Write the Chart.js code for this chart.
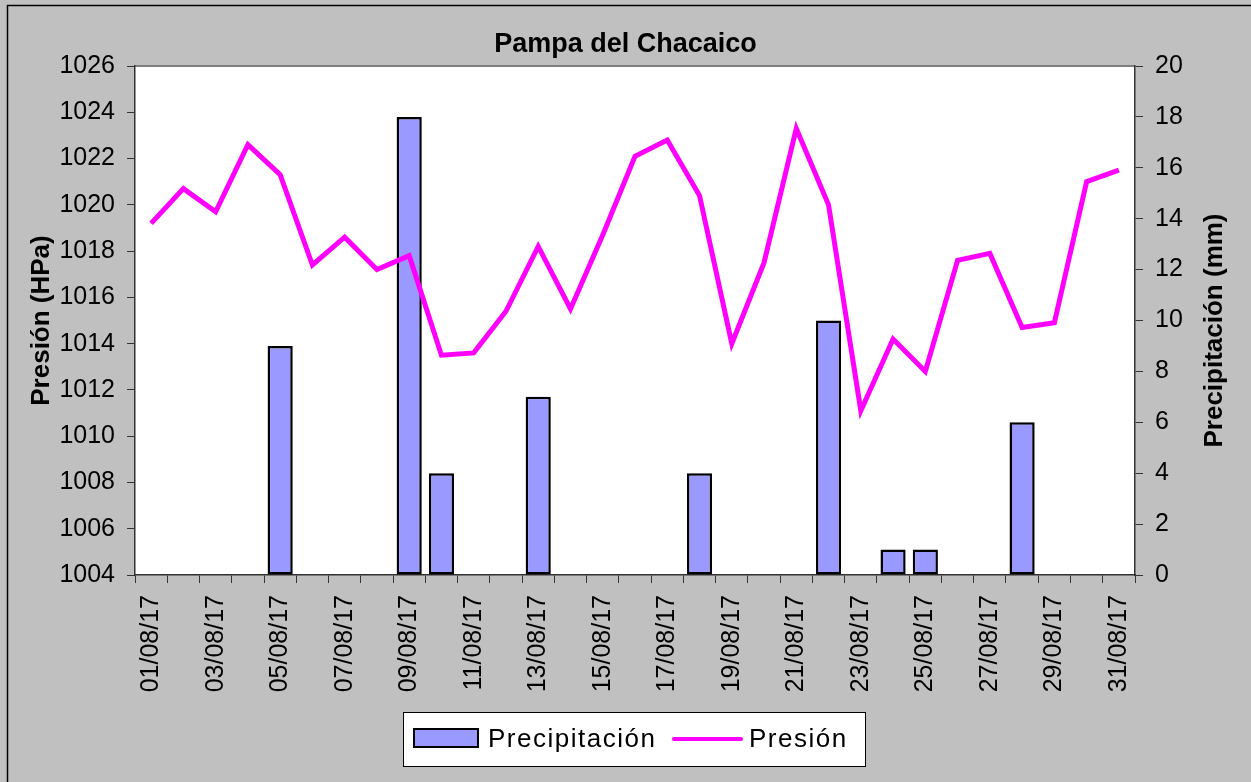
<!DOCTYPE html>
<html>
  <head>
    <title>Pampa del Chacaico</title>
    <script src="https://cdn.jsdelivr.net/npm/chart.js"></script>
    <style>
      body {
        margin: 0;
        background-color: #c0c0c0;
      }
      #wrap {
        width: 1251px;
        height: 782px;
      }
    </style>
  </head>
  <body>
    <div id="wrap"><canvas id="chart" width="1251" height="782"></canvas></div>

    <script>
      let dates = [
        "01/08/17", "02/08/17", "03/08/17", "04/08/17", "05/08/17", "06/08/17",
        "07/08/17", "08/08/17", "09/08/17", "10/08/17", "11/08/17", "12/08/17",
        "13/08/17", "14/08/17", "15/08/17", "16/08/17", "17/08/17", "18/08/17",
        "19/08/17", "20/08/17", "21/08/17", "22/08/17", "23/08/17", "24/08/17",
        "25/08/17", "26/08/17", "27/08/17", "28/08/17", "29/08/17", "30/08/17",
        "31/08/17",
      ];
      let presion = [
        1019.2, 1020.7, 1019.7, 1022.6, 1021.3, 1017.4, 1018.6, 1017.2, 1017.8,
        1013.5, 1013.6, 1015.4, 1018.2, 1015.5, 1018.7, 1022.1, 1022.8, 1020.4,
        1014.0, 1017.5, 1023.3, 1020.0, 1011.1, 1014.2, 1012.8, 1017.6, 1017.9,
        1014.7, 1014.9, 1021.0, 1021.5,
      ];
      let precip = [
        0, 0, 0, 0, 9, 0, 0, 0, 18, 4, 0, 0, 7, 0, 0, 0, 0, 4, 0, 0, 0, 10, 0,
        1, 1, 0, 0, 6, 0, 0, 0,
      ];
      let presionTicks = [1004, 1026, 2];
      let precipTicks = [0, 20, 2];

      let FONT = "'Liberation Sans', Arial, sans-serif";

      // gray frame, border lines and white plot area
      let background = {
        id: "background",
        beforeDraw(chart) {
          let c = chart.ctx;
          let a = chart.chartArea;
          c.save();
          c.fillStyle = "#c0c0c0";
          c.fillRect(0, 0, chart.width, chart.height);
          c.strokeStyle = "#000";
          c.lineWidth = 1.5;
          c.beginPath();
          c.moveTo(7.5, chart.height);
          c.lineTo(7.5, 5.5);
          c.lineTo(chart.width, 5.5);
          c.stroke();
          c.fillStyle = "#fff";
          c.fillRect(a.left, a.top, a.right - a.left, a.bottom - a.top);
          c.strokeStyle = "#808080";
          c.lineWidth = 2;
          c.beginPath();
          c.moveTo(a.left, a.top);
          c.lineTo(a.right, a.top);
          c.stroke();
          c.restore();
        },
      };

      // legend box under the axis labels + right axis title (reads upward)
      let boxLegend = {
        id: "boxLegend",
        afterDraw(chart) {
          let c = chart.ctx;
          let ds = chart.data.datasets;
          let a = chart.chartArea;
          c.save();
          c.fillStyle = "#fff";
          c.fillRect(403, 712, 462, 54);
          c.strokeStyle = "#000";
          c.lineWidth = 1;
          c.strokeRect(403.5, 712.5, 462, 54);

          c.fillStyle = ds[0].backgroundColor;
          c.fillRect(414, 729, 64, 18);
          c.lineWidth = 2;
          c.strokeRect(414, 729, 64, 18);

          c.strokeStyle = ds[1].borderColor;
          c.lineWidth = 4;
          c.lineCap = "round";
          c.beginPath();
          c.moveTo(674, 739);
          c.lineTo(741, 739);
          c.stroke();

          c.fillStyle = "#000";
          c.font = "26px " + FONT;
          c.letterSpacing = "1.5px";
          c.textBaseline = "alphabetic";
          c.fillText(ds[0].label, 488, 747);
          c.fillText(ds[1].label, 749, 747);
          c.restore();

          c.save();
          c.translate(1215, (a.top + a.bottom) / 2 + 10);
          c.rotate(-Math.PI / 2);
          c.fillStyle = "#000";
          c.font = "bold 26px " + FONT;
          c.textAlign = "center";
          c.textBaseline = "middle";
          c.fillText(chart.options.scales.y1.title.text, 0, 0);
          c.restore();
        },
      };

      let ctx = document.getElementById("chart").getContext("2d");
      let chart = new Chart(ctx, {
        data: {
          labels: dates,
          datasets: [
            {
              type: "bar",
              label: "Precipitación",
              data: precip,
              yAxisID: "y1",
              backgroundColor: "#9999ff",
              borderColor: "#000",
              borderWidth: 2.5,
              borderSkipped: false,
              barPercentage: 0.78,
              categoryPercentage: 1,
              order: 1,
            },
            {
              type: "line",
              label: "Presión",
              data: presion,
              yAxisID: "y",
              borderColor: "#ff00ff",
              backgroundColor: "#ff00ff",
              borderWidth: 5,
              pointRadius: 0,
              tension: 0,
              order: 0,
            },
          ],
        },
        options: {
          responsive: false,
          animation: false,
          layout: { padding: 0 },
          plugins: {
            legend: { display: false },
            tooltip: { enabled: false },
            title: {
              display: true,
              text: "Pampa del Chacaico",
              color: "#000",
              font: { family: FONT, size: 27, weight: "bold" },
              padding: { top: 28, bottom: 5.6 },
            },
          },
          scales: {
            x: {
              type: "category",
              offset: true,
              afterFit: (s) => (s.height = 207),
              grid: {
                offset: true,
                drawOnChartArea: false,
                drawTicks: true,
                tickLength: 8,
                color: "#333",
              },
              border: { display: true, color: "#333", width: 1.5 },
              ticks: {
                autoSkip: false,
                maxRotation: 90,
                minRotation: 90,
                padding: 12,
                color: "#000",
                font: { family: FONT, size: 25 },
                callback: (v, i) => (i % 2 === 0 ? dates[i] : ""),
              },
            },
            y: {
              position: "left",
              min: presionTicks[0],
              max: presionTicks[1],
              afterFit: (s) => (s.width = 135),
              grid: {
                drawOnChartArea: false,
                tickLength: 8,
                color: "#333",
              },
              border: { display: true, color: "#333", width: 1.5 },
              ticks: {
                stepSize: presionTicks[2],
                padding: 12,
                color: "#000",
                font: { family: FONT, size: 25 },
                callback: (v) => String(v),
              },
              title: {
                display: true,
                text: "Presión (HPa)",
                color: "#000",
                font: { family: FONT, size: 26, weight: "bold" },
                padding: { top: 26, bottom: 0 },
              },
            },
            y1: {
              position: "right",
              min: precipTicks[0],
              max: precipTicks[1],
              afterFit: (s) => (s.width = 116),
              grid: {
                drawOnChartArea: false,
                tickLength: 8,
                color: "#333",
              },
              border: { display: true, color: "#333", width: 1.5 },
              ticks: {
                stepSize: precipTicks[2],
                padding: 12,
                color: "#000",
                font: { family: FONT, size: 25 },
              },
              title: {
                display: false,
                text: "Precipitación (mm)",
              },
            },
          },
        },
        plugins: [background, boxLegend],
      });
    </script>
  </body>
</html>
